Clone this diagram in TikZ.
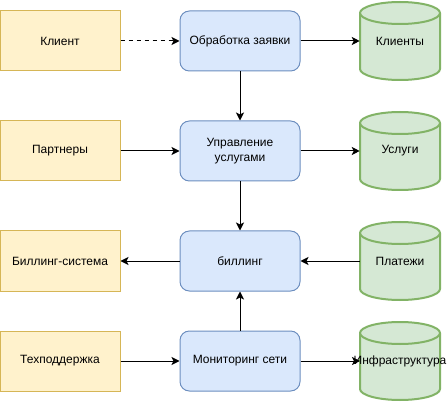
\documentclass[tikz,border=0pt]{standalone}
\usepackage{fontspec}
\setmainfont{Liberation Sans}
\usepackage{tikz}
\usetikzlibrary{arrows.meta,backgrounds}

\definecolor{actfill}{HTML}{FFF2CC}
\definecolor{actline}{HTML}{D6B656}
\definecolor{procfill}{HTML}{DAE8FC}
\definecolor{procline}{HTML}{6C8EBF}
\definecolor{dbfill}{HTML}{D5E8D4}
\definecolor{dbline}{HTML}{82B366}

\begin{document}
\begin{tikzpicture}[x = 0.75pt, y = -0.75pt,
  every node/.style = {font = \fontsize{9}{11.25}\selectfont, align = center, inner sep = 0pt},
  actor/.style = {draw = actline, fill = actfill, line width = 0.75pt, minimum width = 90pt, minimum height = 45pt},
  proc/.style = {draw = procline, fill = procfill, line width = 0.75pt, rounded corners = 7pt, minimum width = 90pt, minimum height = 45pt},
  store/.style = {minimum width = 60pt, minimum height = 58.5pt},
  drum/.style = {draw = dbline, fill = dbfill, line width = 1.5pt},
  flow/.style = {-{Stealth[length = 6pt, width = 6pt, inset = 1.5pt]}, line width = 0.75pt}]
\useasboundingbox (0,0) rectangle (447,403);

\node [actor] (client) at (60,41) {Клиент};
\node [actor] (partners) at (60,151) {Партнеры};
\node [actor] (billsys) at (60,261) {Биллинг-система};
\node [actor] (support) at (60,361) {Техподдержка};

\node [proc] (request) at (240,41) {Обработка заявки};
\node [proc] (service) at (240,151) {Управление\\услугами};
\node [proc] (billing) at (240,261) {биллинг};
\node [proc] (monitor) at (240,361) {Мониторинг сети};

\node [store] (clients) at (400,41) {Клиенты};
\node [store] (services) at (400,151) {Услуги};
\node [store] (payments) at (400,261) {Платежи};
\node [store] (infra) at (400,361) {Инфраструктура};

% drums behind the store labels
\begin{scope}[on background layer]
\foreach \n in {clients, services, payments, infra} {
  \filldraw [drum] ([xshift = -30pt, yshift = 21pt]\n.center) -- ([xshift = -30pt, yshift = -21pt]\n.center)
    arc [start angle = 180, end angle = 360, x radius = 30pt, y radius = 8.25pt]
    -- ([xshift = 30pt, yshift = 21pt]\n.center)
    arc [start angle = 0, end angle = 180, x radius = 30pt, y radius = 8.25pt] -- cycle;
  \draw [drum] ([xshift = -30pt, yshift = 21pt]\n.center)
    arc [start angle = 180, end angle = 360, x radius = 30pt, y radius = 8.25pt];
}
\end{scope}

\draw [flow, dash pattern = on 3pt off 3pt] (client) -- (request);
\draw [flow] (request) -- (clients.west);
\draw [flow] (request) -- (service);
\draw [flow] (partners) -- (service);
\draw [flow] (service) -- (services.west);
\draw [flow] (service) -- (billing);
\draw [flow] (billing) -- (billsys);
\draw [flow] (payments.west) -- (billing);
\draw [flow] (monitor) -- (billing);
\draw [flow] (support) -- (monitor);
\draw [flow] (monitor) -- ([xshift = -30pt]infra.center);
\end{tikzpicture}
\end{document}
